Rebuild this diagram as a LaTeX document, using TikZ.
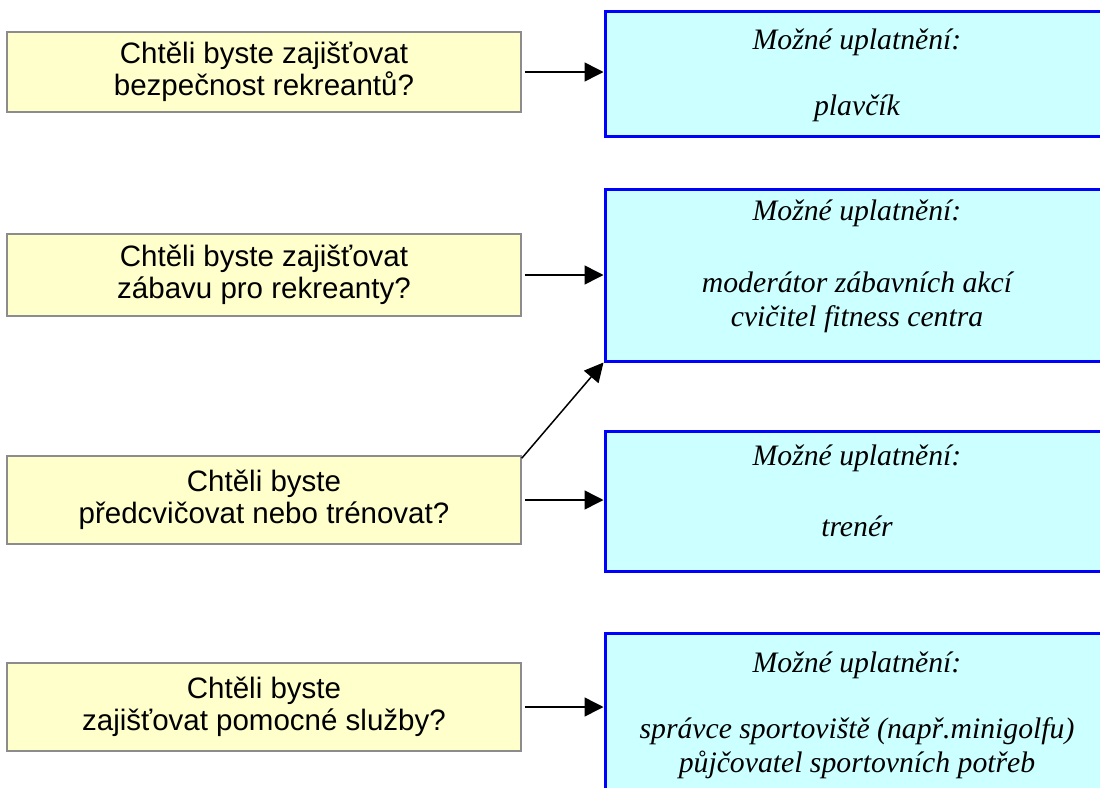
\documentclass[tikz,border=0pt]{standalone}
\usepackage{fontspec}
\setmainfont{Liberation Serif}
\newfontfamily\arialf{Liberation Sans}
\usetikzlibrary{arrows.meta}
\definecolor{qfill}{HTML}{FFFFCC}
\definecolor{qborder}{HTML}{8C8C8C}
\definecolor{afill}{HTML}{CCFFFF}
\definecolor{aborder}{HTML}{0000FF}
\tikzset{
  qbox/.style={draw=qborder, line width=1.5pt, fill=qfill, minimum width=514pt, inner sep=0pt, align=center,
    font=\arialf\fontsize{29.5}{32}\selectfont},
  abox/.style={draw=aborder, line width=3pt, fill=afill, minimum width=505pt, inner sep=0pt},
  atext/.style={inner sep=0pt, align=center, font=\itshape\fontsize{29.7}{34}\selectfont},
  conn/.style={line width=1.5pt, -{Triangle[length=19pt,width=19pt]}, shorten <=3pt}
}
\begin{document}
\begin{tikzpicture}[x=1pt,y=-1pt]
\clip (0,0) rectangle (1100,787);
\fill[white] (0,0) rectangle (1100,787);
% question boxes
\node[qbox, minimum height=80pt] (q1) at (264,72) {Chtěli byste zajišťovat\\bezpečnost rekreantů?};
\node[qbox, minimum height=82pt] (q2) at (264,275) {Chtěli byste zajišťovat\\zábavu pro rekreanty?};
\node[qbox, minimum height=88pt] (q3) at (264,500) {Chtěli byste\\předcvičovat nebo trénovat?};
\node[qbox, minimum height=88pt] (q4) at (264,707) {Chtěli byste\\zajišťovat pomocné služby?};
% answer boxes
\node[abox, minimum height=125pt] (a1) at (857.5,73.5) {};
\node[abox, minimum height=172pt] (a2) at (857.5,275) {};
\node[abox, minimum height=140pt] (a3) at (857.5,501) {};
\node[abox, minimum height=230pt] (a4) at (857.5,748) {};
% answer texts
\node[atext] (t1a) at (857,42) {Možné uplatnění:};
\node[atext] (t1b) at (857,108) {plavčík};
\node[atext] (t2a) at (857,213) {Možné uplatnění:};
\node[atext] (t2b) at (857,302) {moderátor zábavních akcí\\cvičitel fitness centra};
\node[atext] (t3a) at (857,458) {Možné uplatnění:};
\node[atext] (t3b) at (857,526) {trenér};
\node[atext] (t4a) at (857,665) {Možné uplatnění:};
\node[atext] (t4b) at (857,748) {správce sportoviště (např.minigolfu)\\půjčovatel sportovních potřeb};
% connectors
\draw[conn] (q1.east) -- (a1.west |- q1.east);
\draw[conn] (q2.east) -- (a2.west |- q2.east);
\draw[conn] (q3.east) -- (a3.west |- q3.east);
\draw[conn] (q4.east) -- (a4.west |- q4.east);
\draw[conn, shorten <=0pt] ([yshift=-3pt]q3.north east) -- (a2.south west);
\end{tikzpicture}
\end{document}
